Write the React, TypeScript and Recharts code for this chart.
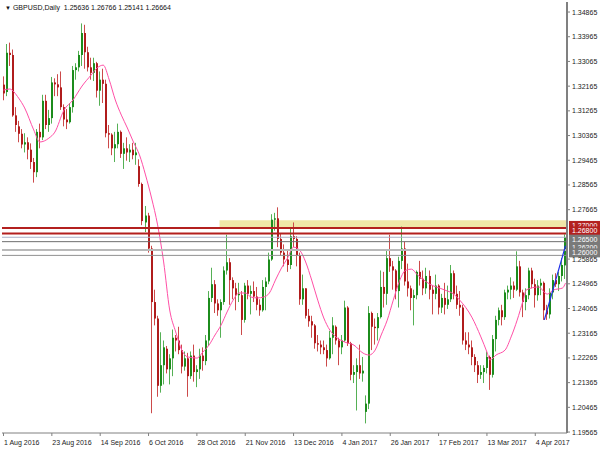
import React from 'react';
import { ComposedChart, Bar, Line, XAxis, YAxis, ReferenceLine, ReferenceArea } from 'recharts';

const FONT = "'Liberation Sans',Arial,sans-serif";

// daily bars, 1 Aug 2016 .. 18 Apr 2017 (index = bar number)
const opens = [
  1.3222, 1.3195, 1.3338, 1.3330, 1.3110, 1.3070, 1.3043, 1.3004, 1.3012, 1.2985,
  1.2940, 1.2903, 1.3050, 1.3030, 1.3163, 1.3075, 1.3100, 1.3230, 1.3223, 1.3212,
  1.3140, 1.3095, 1.3085, 1.3140, 1.3275, 1.3285, 1.3330, 1.3410, 1.3340, 1.3285,
  1.3265, 1.3300, 1.3200, 1.3240, 1.3225, 1.3045, 1.3040, 1.2990, 1.3005, 1.3050,
  1.2970, 1.2990, 1.2975, 1.2985, 1.2965, 1.2925, 1.2860, 1.2720, 1.2745, 1.2625,
  1.2430, 1.2370, 1.2125, 1.2200, 1.2260, 1.2185, 1.2225, 1.2300, 1.2290, 1.2255,
  1.2195, 1.2225, 1.2160, 1.2235, 1.2175, 1.2185, 1.2235, 1.2215, 1.2290, 1.2445,
  1.2495, 1.2425, 1.2400, 1.2430, 1.2545, 1.2575, 1.2510, 1.2480, 1.2455, 1.2455,
  1.2365, 1.2490, 1.2460, 1.2470, 1.2450, 1.2420, 1.2400, 1.2485, 1.2505, 1.2585,
  1.2730, 1.2735, 1.2660, 1.2610, 1.2585, 1.2565, 1.2670, 1.2660, 1.2600, 1.2440,
  1.2480, 1.2380, 1.2360, 1.2345, 1.2280, 1.2275, 1.2265, 1.2255, 1.2225, 1.2300,
  1.2340, 1.2290, 1.2265, 1.2290, 1.2410, 1.2280, 1.2165, 1.2175, 1.2200, 1.2170,
  1.2030, 1.2060, 1.2390, 1.2340, 1.2335, 1.2375, 1.2485, 1.2460, 1.2590, 1.2560,
  1.2545, 1.2470, 1.2580, 1.2625, 1.2505, 1.2480, 1.2445, 1.2455, 1.2540, 1.2515,
  1.2480, 1.2525, 1.2475, 1.2460, 1.2490, 1.2410, 1.2445, 1.2420, 1.2440, 1.2535,
  1.2460, 1.2420, 1.2410, 1.2290, 1.2275, 1.2265, 1.2230, 1.2200, 1.2165, 1.2175,
  1.2190, 1.2230, 1.2165, 1.2295, 1.2365, 1.2400, 1.2375, 1.2465, 1.2475, 1.2490,
  1.2475, 1.2560, 1.2465, 1.2430, 1.2455, 1.2545, 1.2495, 1.2455, 1.2490, 1.2500,
  1.2400, 1.2385, 1.2465, 1.2510, 1.2495, 1.2525, 1.25636,
];
const highs = [
  1.3252, 1.3370, 1.3375, 1.3350, 1.3140, 1.3090, 1.3060, 1.3045, 1.3030, 1.3008,
  1.2955, 1.3060, 1.3080, 1.3185, 1.3185, 1.3130, 1.3250, 1.3245, 1.3260, 1.3270,
  1.3150, 1.3133, 1.3155, 1.3290, 1.3300, 1.3345, 1.3445, 1.3440, 1.3360, 1.3320,
  1.3320, 1.3305, 1.3270, 1.3280, 1.3240, 1.3075, 1.3045, 1.3050, 1.3080, 1.3055,
  1.3010, 1.3030, 1.3005, 1.3010, 1.3010, 1.2950, 1.2865, 1.2780, 1.2755, 1.2635,
  1.2475, 1.2380, 1.2320, 1.2290, 1.2270, 1.2240, 1.2330, 1.2310, 1.2340, 1.2275,
  1.2250, 1.2245, 1.2250, 1.2275, 1.2200, 1.2260, 1.2265, 1.2310, 1.2470, 1.2555,
  1.2510, 1.2440, 1.2440, 1.2560, 1.2675, 1.2590, 1.2520, 1.2500, 1.2500, 1.2470,
  1.2500, 1.2510, 1.2490, 1.2505, 1.2485, 1.2440, 1.2510, 1.2520, 1.2610, 1.2750,
  1.2755, 1.2775, 1.2680, 1.2640, 1.2620, 1.2700, 1.2720, 1.2670, 1.2610, 1.2530,
  1.2480, 1.2405, 1.2380, 1.2350, 1.2310, 1.2290, 1.2290, 1.2275, 1.2325, 1.2375,
  1.2345, 1.2300, 1.2310, 1.2435, 1.2415, 1.2285, 1.2200, 1.2225, 1.2275, 1.2230,
  1.2090, 1.2415, 1.2395, 1.2370, 1.2390, 1.2545, 1.2540, 1.2620, 1.2675, 1.2580,
  1.2550, 1.2595, 1.2705, 1.2650, 1.2570, 1.2490, 1.2475, 1.2545, 1.2580, 1.2545,
  1.2555, 1.2545, 1.2490, 1.2530, 1.2495, 1.2460, 1.2500, 1.2490, 1.2565, 1.2545,
  1.2490, 1.2470, 1.2420, 1.2320, 1.2320, 1.2290, 1.2240, 1.2215, 1.2200, 1.2200,
  1.2250, 1.2235, 1.2310, 1.2380, 1.2410, 1.2420, 1.2475, 1.2490, 1.2520, 1.2505,
  1.2615, 1.2580, 1.2475, 1.2480, 1.2555, 1.2555, 1.2515, 1.2510, 1.2515, 1.2505,
  1.2420, 1.2480, 1.2530, 1.2535, 1.2540, 1.2590, 1.26766,
];
const lows = [
  1.3165, 1.3180, 1.3290, 1.3105, 1.3050, 1.3012, 1.2990, 1.2975, 1.2950, 1.2915,
  1.2865, 1.2885, 1.2990, 1.3020, 1.3060, 1.3050, 1.3080, 1.3180, 1.3180, 1.3130,
  1.3070, 1.3060, 1.3080, 1.3120, 1.3240, 1.3270, 1.3290, 1.3280, 1.3270, 1.3240,
  1.3235, 1.3175, 1.3145, 1.3155, 1.3030, 1.2990, 1.2965, 1.2940, 1.2990, 1.2955,
  1.2915, 1.2945, 1.2940, 1.2950, 1.2930, 1.2850, 1.2710, 1.2685, 1.2610, 1.2025,
  1.2345, 1.2085, 1.2100, 1.2130, 1.2170, 1.2130, 1.2160, 1.2250, 1.2240, 1.2170,
  1.2180, 1.2085, 1.2150, 1.2140, 1.2120, 1.2150, 1.2180, 1.2200, 1.2270, 1.2430,
  1.2390, 1.2380, 1.2300, 1.2420, 1.2530, 1.2420, 1.2440, 1.2400, 1.2430, 1.2310,
  1.2355, 1.2440, 1.2385, 1.2430, 1.2400, 1.2380, 1.2395, 1.2400, 1.2495, 1.2580,
  1.2690, 1.2630, 1.2600, 1.2560, 1.2540, 1.2550, 1.2630, 1.2560, 1.2420, 1.2420,
  1.2370, 1.2340, 1.2300, 1.2260, 1.2250, 1.2240, 1.2240, 1.2195, 1.2220, 1.2240,
  1.2275, 1.2200, 1.2240, 1.2285, 1.2270, 1.2145, 1.2135, 1.2035, 1.2150, 1.2140,
  1.1988, 1.2040, 1.2255, 1.2275, 1.2290, 1.2370, 1.2410, 1.2420, 1.2540, 1.2475,
  1.2440, 1.2410, 1.2550, 1.2490, 1.2450, 1.2400, 1.2345, 1.2440, 1.2490, 1.2455,
  1.2460, 1.2440, 1.2385, 1.2440, 1.2385, 1.2390, 1.2385, 1.2405, 1.2430, 1.2440,
  1.2405, 1.2380, 1.2275, 1.2255, 1.2240, 1.2200, 1.2175, 1.2135, 1.2150, 1.2135,
  1.2170, 1.2110, 1.2155, 1.2250, 1.2345, 1.2345, 1.2365, 1.2440, 1.2440, 1.2445,
  1.2470, 1.2450, 1.2375, 1.2400, 1.2440, 1.2480, 1.2410, 1.2435, 1.2455, 1.2365,
  1.2365, 1.2370, 1.2440, 1.2485, 1.2470, 1.2505, 1.25141,
];
const closes = [
  1.3190, 1.3338, 1.3330, 1.3110, 1.3075, 1.3043, 1.3004, 1.3012, 1.2985, 1.2940,
  1.2903, 1.3050, 1.3030, 1.3163, 1.3075, 1.3100, 1.3230, 1.3223, 1.3212, 1.3140,
  1.3095, 1.3085, 1.3140, 1.3275, 1.3285, 1.3330, 1.3410, 1.3340, 1.3285, 1.3265,
  1.3300, 1.3200, 1.3240, 1.3225, 1.3045, 1.3040, 1.2990, 1.3005, 1.3050, 1.2970,
  1.2990, 1.2975, 1.2985, 1.2965, 1.2975, 1.2860, 1.2725, 1.2745, 1.2625, 1.2430,
  1.2370, 1.2125, 1.2200, 1.2265, 1.2185, 1.2225, 1.2300, 1.2290, 1.2255, 1.2195,
  1.2225, 1.2160, 1.2235, 1.2175, 1.2185, 1.2235, 1.2215, 1.2290, 1.2445, 1.2495,
  1.2425, 1.2400, 1.2430, 1.2545, 1.2575, 1.2510, 1.2480, 1.2455, 1.2460, 1.2365,
  1.2490, 1.2460, 1.2470, 1.2450, 1.2420, 1.2400, 1.2485, 1.2505, 1.2585, 1.2730,
  1.2735, 1.2660, 1.2610, 1.2585, 1.2565, 1.2670, 1.2660, 1.2600, 1.2440, 1.2480,
  1.2380, 1.2360, 1.2345, 1.2280, 1.2275, 1.2265, 1.2255, 1.2225, 1.2300, 1.2345,
  1.2290, 1.2265, 1.2290, 1.2410, 1.2280, 1.2165, 1.2175, 1.2200, 1.2170, 1.2180,
  1.2060, 1.2390, 1.2340, 1.2335, 1.2375, 1.2485, 1.2460, 1.2590, 1.2560, 1.2545,
  1.2470, 1.2580, 1.2625, 1.2505, 1.2480, 1.2445, 1.2455, 1.2540, 1.2515, 1.2480,
  1.2525, 1.2475, 1.2460, 1.2490, 1.2410, 1.2445, 1.2420, 1.2440, 1.2535, 1.2460,
  1.2420, 1.2410, 1.2290, 1.2275, 1.2265, 1.2230, 1.2200, 1.2165, 1.2175, 1.2190,
  1.2230, 1.2165, 1.2295, 1.2365, 1.2400, 1.2375, 1.2465, 1.2475, 1.2490, 1.2475,
  1.2560, 1.2465, 1.2430, 1.2455, 1.2545, 1.2495, 1.2455, 1.2490, 1.2500, 1.2400,
  1.2385, 1.2465, 1.2510, 1.2495, 1.2525, 1.2565, 1.26664,
];

// moving average: [bar, value]
const maPoints: [number, number][] = [
  [0, 1.3202], [2, 1.3206], [5, 1.3173], [7, 1.3137], [10, 1.3057], [12, 1.3013], [15, 1.3027],
  [17, 1.3049], [20, 1.3129], [23, 1.3166], [26, 1.3217], [29, 1.3257], [31, 1.3283], [33, 1.3293],
  [35, 1.3239], [37, 1.3166], [39, 1.3111], [41, 1.3064], [43, 1.3013], [45, 1.2966], [47, 1.2893],
  [49, 1.2809], [51, 1.2711], [53, 1.2576], [55, 1.2401], [57, 1.2321], [59, 1.2255], [61, 1.2230],
  [64, 1.2226], [66, 1.2248], [68, 1.2273], [70, 1.2310], [72, 1.2346], [74, 1.2394], [76, 1.2437],
  [78, 1.2463], [80, 1.2463], [82, 1.2448], [84, 1.2445], [86, 1.2448], [88, 1.2463], [90, 1.2510],
  [92, 1.2554], [94, 1.2590], [96, 1.2630], [98, 1.2619], [100, 1.2576], [102, 1.2510], [104, 1.2437],
  [106, 1.2372], [108, 1.2328], [110, 1.2303], [113, 1.2284], [116, 1.2273], [119, 1.2244],
  [121, 1.2237], [123, 1.2255], [125, 1.2310], [127, 1.2364], [129, 1.2437], [131, 1.2505],
  [133, 1.2545], [135, 1.2550], [137, 1.2529], [141, 1.2496], [146, 1.2474], [149, 1.2459],
  [151, 1.2437], [155, 1.2375], [158, 1.2303], [160, 1.2248], [161, 1.2219], [163, 1.2237],
  [166, 1.2255], [168, 1.2303], [170, 1.2364], [172, 1.2437], [173, 1.2474], [177, 1.2485],
  [180, 1.2459], [182, 1.2474], [185, 1.2481], [186, 1.2499],
];

const xTickIdx = [0, 16, 32, 48, 64, 80, 96, 112, 128, 144, 160, 176];
const xTickLabels = [
  '1 Aug 2016', '23 Aug 2016', '14 Sep 2016', '6 Oct 2016', '28 Oct 2016', '21 Nov 2016',
  '13 Dec 2016', '4 Jan 2017', '26 Jan 2017', '17 Feb 2017', '13 Mar 2017', '4 Apr 2017',
];
// 1.26765 sits under the price tags, so it is not printed
const yTicks = [
  1.34865, 1.33965, 1.33065, 1.32165, 1.31265, 1.30365, 1.29465, 1.28565, 1.27665,
  1.25865, 1.24965, 1.24065, 1.23165, 1.22265, 1.21365, 1.20465, 1.19565,
];

// horizontal levels, drawn top to bottom so lower tags overlap the ones above
const levels = [
  { v: 1.27, color: '#b3201f', w: 2, tag: '1.27000', bg: '#b3201f' },
  { v: 1.268, color: '#b3201f', w: 2, tag: '1.26800', bg: '#b3201f' },
  { v: 1.2666, color: '#a9b0c8', w: 1, tag: null, bg: '' },
  { v: 1.265, color: '#6e6e6e', w: 1, tag: '1.26500', bg: '#7a7a7a' },
  { v: 1.262, color: '#b9b9b9', w: 2, tag: '1.26200', bg: '#7a7a7a' },
  { v: 1.26, color: '#909090', w: 1, tag: '1.26000', bg: '#7a7a7a' },
];
const zone = { from: 72, to: 186, lo: 1.27, hi: 1.2728 };
const trend = { from: 179, fromV: 1.2365, to: 186, toV: 1.2635 };

const rows = opens.map((o, i) => ({
  i,
  o,
  h: highs[i],
  l: lows[i],
  c: closes[i],
  range: [lows[i], highs[i]],
  ma: null as number | null,
}));
maPoints.forEach(([i, v]) => {
  rows[i].ma = v;
});

const Candle = (props: any) => {
  const { x, y, width, height, payload } = props;
  if (x == null || !payload) return null;
  const { o, h, l, c } = payload;
  const top = Math.min(y, y + height);
  const span = Math.abs(height);
  const k = span / (h - l);
  const py = (v: number) => top + (h - v) * k;
  const cx = Math.round(x + width / 2);
  const up = c >= o;
  const body = up ? '#1c8c1c' : '#b01c1c';
  const wick = up ? '#55b055' : '#cc4a4a';
  const bTop = py(Math.max(o, c));
  const bH = Math.max(1, py(Math.min(o, c)) - bTop);
  return (
    <g>
      <line x1={cx - 0.5} x2={cx - 0.5} y1={top} y2={top + span} stroke={wick} strokeWidth={1} />
      <rect x={cx - 1} y={bTop} width={2} height={bH} fill={body} />
    </g>
  );
};

const XTick = (props: any) => {
  const { x, y, payload } = props;
  const k = xTickIdx.indexOf(payload.value);
  return (
    <text x={x + 0.5} y={y} dy={7.5} fontSize={7} fontFamily={FONT} fill="#222" textAnchor="start">
      {k >= 0 ? xTickLabels[k] : ''}
    </text>
  );
};

const YTick = (props: any) => {
  const { x, y, payload } = props;
  return (
    <text x={x} y={y} dy={2.5} fontSize={7} fontFamily={FONT} fill="#222" textAnchor="start">
      {Number(payload.value).toFixed(5)}
    </text>
  );
};

const tagFor = (text: string, bg: string) => (p: any) => {
  const vb = p.viewBox || {};
  const lx = vb.x + vb.width + 2;
  return (
    <g>
      <rect x={lx} y={vb.y - 7} width={31} height={9} fill={bg} />
      <text x={lx + 3} y={vb.y} fontSize={7} fontFamily={FONT} fill="#fff">
        {text}
      </text>
    </g>
  );
};

const App = () => {
  return (
    <div style={{ position: 'absolute', left: 0, top: 0, width: 600, height: 450, background: '#fff' }}>
      <ComposedChart width={600} height={450} data={rows} margin={{ top: 2, right: 0, bottom: 0, left: 2 }} barCategoryGap={0}>
        <XAxis
          dataKey="i"
          type="category"
          ticks={xTickIdx}
          interval={0}
          height={17}
          tick={<XTick />}
          tickSize={3}
          tickMargin={1}
          stroke="#808080"
          axisLine={{ stroke: '#808080', strokeWidth: 1 }}
        />
        <XAxis xAxisId="top" dataKey="i" orientation="top" height={0} tick={false} tickLine={false} axisLine={{ stroke: '#808080', strokeWidth: 2 }} />
        <YAxis
          orientation="right"
          domain={[1.1953, 1.3523]}
          ticks={yTicks}
          interval={0}
          width={33}
          tick={<YTick />}
          tickSize={3}
          tickMargin={2}
          stroke="#808080"
          axisLine={{ stroke: '#808080', strokeWidth: 2 }}
        />
        <YAxis yAxisId="left" orientation="left" width={0} domain={[1.1953, 1.3523]} tick={false} tickLine={false} axisLine={{ stroke: '#808080', strokeWidth: 2 }} />
        <ReferenceArea x1={zone.from} x2={zone.to} y1={zone.lo} y2={zone.hi} fill="#f0e6a8" fillOpacity={1} stroke="none" />
        <Bar dataKey="range" shape={<Candle />} isAnimationActive={false} />
        <Line dataKey="ma" type="monotone" stroke="#ff4fa6" strokeWidth={1} dot={false} connectNulls isAnimationActive={false} />
        {levels.map((lv) => (
          <ReferenceLine
            key={lv.v}
            y={lv.v}
            stroke={lv.color}
            strokeWidth={lv.w}
            label={lv.tag ? tagFor(lv.tag, lv.bg) : undefined}
          />
        ))}
        <ReferenceLine
          segment={[
            { x: trend.from, y: trend.fromV },
            { x: trend.to, y: trend.toV },
          ]}
          stroke="#1f2fe8"
          strokeWidth={1.2}
        />
      </ComposedChart>
      <div style={{ position: 'absolute', left: 5, top: 3, fontFamily: FONT, fontSize: 7, color: '#111', whiteSpace: 'pre', lineHeight: '10px' }}>
        <span style={{ fontSize: 6 }}>▼</span> GBPUSD,Daily  1.25636 1.26766 1.25141 1.26664
      </div>
    </div>
  );
};

export default App;
